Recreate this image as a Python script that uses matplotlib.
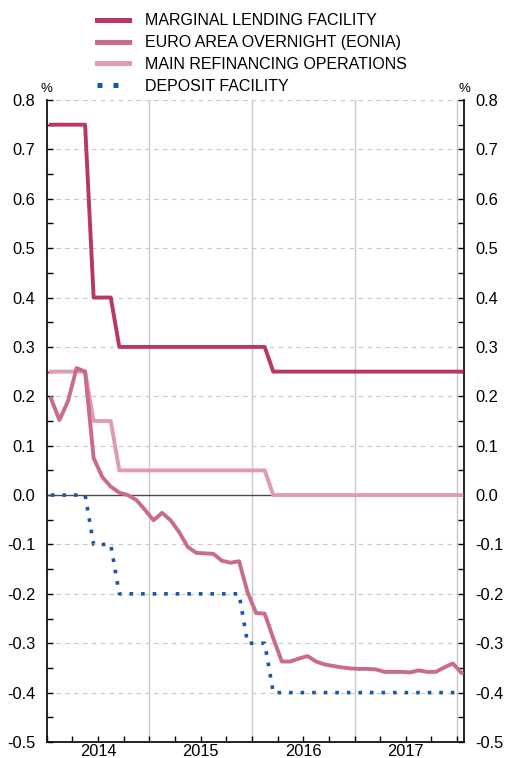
import matplotlib.pyplot as plt
import numpy as np
import pandas as pd

plt.rcParams['font.family'] = ['Liberation Sans', 'DejaVu Sans']

# monthly observations, Jan 2014 - Jan 2018
months = pd.date_range('2014-01-01', '2018-01-01', freq='MS')
years = ['2014', '2015', '2016', '2017']

mlf = ([0.75] * 5 + [0.40] * 3 + [0.30] * 18 + [0.25] * 23)
mro = ([0.25] * 5 + [0.15] * 3 + [0.05] * 18 + [0.00] * 23)
dfr = ([0.00] * 5 + [-0.10] * 3 + [-0.20] * 15 + [-0.30] * 3 + [-0.40] * 23)
eonia = [0.196, 0.152, 0.19, 0.257, 0.25, 0.075, 0.037, 0.017, 0.005, 0.00, -0.010, -0.03,
         -0.051, -0.036, -0.051, -0.075, -0.105, -0.117, -0.118, -0.119, -0.133, -0.137, -0.134, -0.197,
         -0.239, -0.240, -0.29, -0.337, -0.337, -0.331, -0.326, -0.337, -0.343, -0.346, -0.349, -0.351,
         -0.352, -0.352, -0.353, -0.358, -0.358, -0.358, -0.359, -0.355, -0.358, -0.358, -0.349, -0.341,
         -0.36]
yvals = [-0.5, -0.4, -0.3, -0.2, -0.1, 0.0, 0.1, 0.2, 0.3, 0.4, 0.5, 0.6, 0.7, 0.8]

c_mlf = '#B8385E'
c_eonia = '#CA6C87'
c_mro = '#E09BAF'
c_df = '#1A56A6'

x = np.arange(len(months)) + 0.5

fig = plt.figure(figsize=(5.06, 7.58), dpi=100)
ax = fig.add_axes([46.6 / 506, 16 / 758, (464 - 46.6) / 506, (742 - 100) / 758])

ax.set_xlim(0, 48.8)
ax.set_ylim(-0.5, 0.8)

# grid
for v in yvals:
    if v != 0:
        ax.axhline(v, color='#c8c8c8', lw=0.8, ls=(0, (4, 4)), zorder=1)
for yr in [12, 24, 36, 48]:
    ax.axvline(yr, color='#c8c8c8', lw=1.0, zorder=1)
ax.axhline(0, color='#4a4a4a', lw=1.0, zorder=2)

lw = 2.8
ax.plot(x, mro, color=c_mro, lw=lw, zorder=3, label='MAIN REFINANCING OPERATIONS')
ax.plot(x, dfr, color=c_df, lw=2.6, ls=(0, (1, 2.2)), zorder=4, label='DEPOSIT FACILITY')
ax.plot(x, eonia, color=c_eonia, lw=lw, zorder=5, label='EURO AREA OVERNIGHT (EONIA)')
ax.plot(x, mlf, color=c_mlf, lw=lw, zorder=6, label='MARGINAL LENDING FACILITY')

# spines and ticks
ax.spines['top'].set_visible(False)
for s in ['left', 'right', 'bottom']:
    ax.spines[s].set_linewidth(1.3)
    ax.spines[s].set_color('#111111')

ax.set_yticks(yvals)
ax.set_yticklabels([f'{v:.1f}' for v in yvals])
ax.set_yticks([v + 0.05 for v in yvals[:-1]], minor=True)
ax.tick_params(axis='y', which='both', direction='in', left=True, right=True,
               labelleft=True, labelright=True, length=4, width=1, labelsize=11.8, pad=8)

ax.set_xticks([0, 12, 24, 36, 48])
ax.set_xticklabels([''] * 5)
minor_pos = [m for m in range(3, 48, 3) if m % 12 != 0]
ax.set_xticks(minor_pos, minor=True)
ax.set_xticklabels([years[m // 12] if m % 12 == 6 else '' for m in minor_pos], minor=True)
ax.tick_params(axis='x', which='both', direction='in', length=4, width=1, labelsize=11.8, pad=1.5)

ax.text(0, 1.008, '%', transform=ax.transAxes, ha='center', va='bottom', fontsize=9.5)
ax.text(1, 1.008, '%', transform=ax.transAxes, ha='center', va='bottom', fontsize=9.5)

handles, labels = ax.get_legend_handles_labels()
order = [3, 2, 0, 1]
leg = fig.legend([handles[i] for i in order], [labels[i] for i in order],
                 loc='upper left', bbox_to_anchor=(91 / 506, 1 - 7 / 758), frameon=False,
                 fontsize=11.5, handlelength=2.0, handletextpad=0.95, labelspacing=0.42,
                 borderaxespad=0)
for h in leg.legend_handles:
    h.set_linewidth(3.6)

fig.savefig('out.png', dpi=100)
